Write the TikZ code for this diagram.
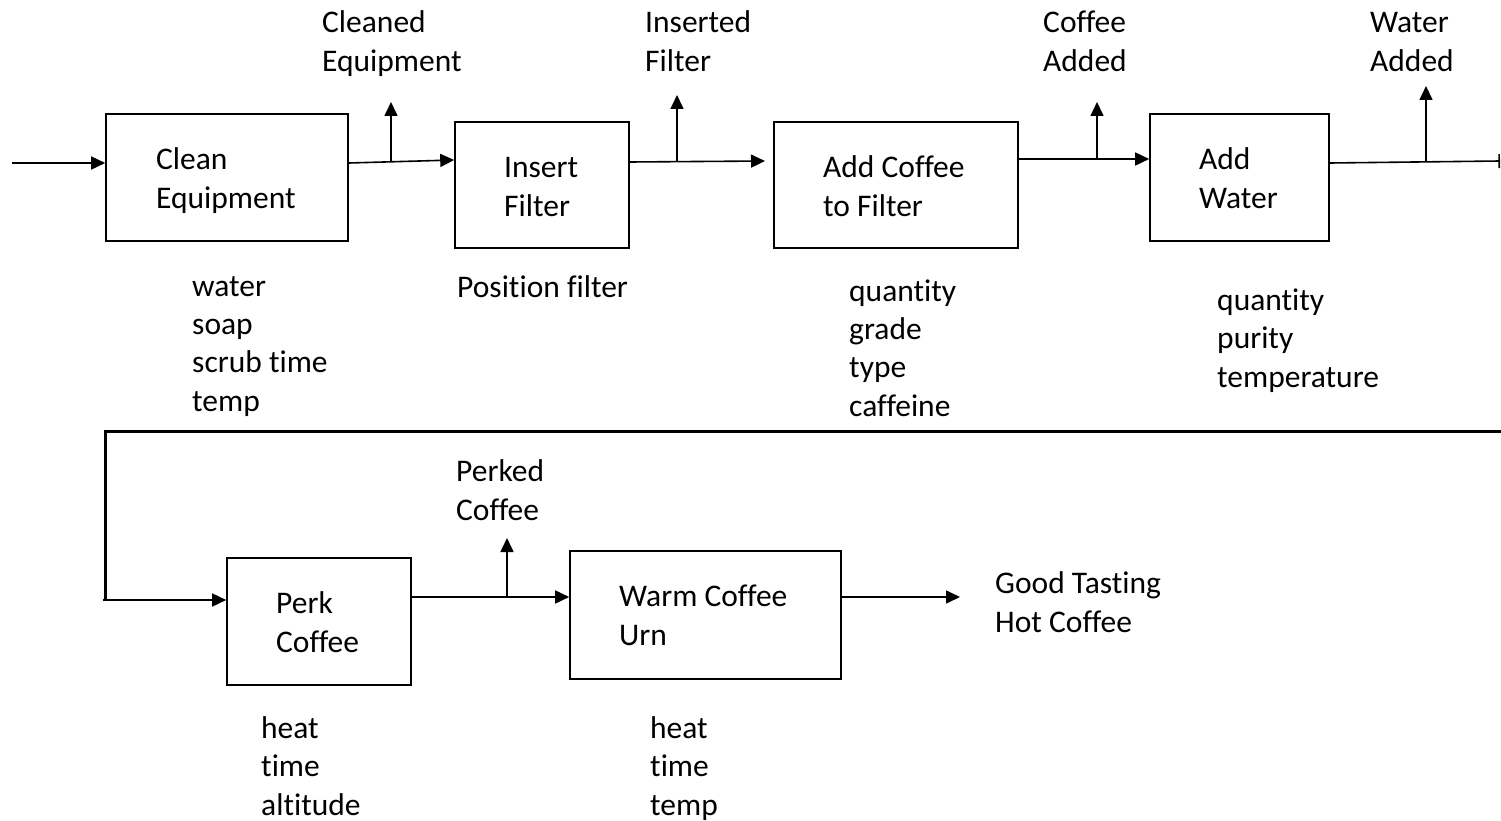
\documentclass[tikz,border=0pt]{standalone}
\usepackage{fontspec}
\setmainfont{Carlito}[Ligatures={NoCommon}]
\usetikzlibrary{arrows.meta}
\begin{document}
\begin{tikzpicture}[x=1pt,y=-1pt,
  box/.style={draw,line width=1.6pt,inner sep=0,minimum width=#1},
  arr/.style={line width=1.6pt,-{Triangle[length=14pt,width=13pt]}},
  ln/.style={line width=1.6pt},
  txt/.style={inner sep=0,anchor=base west,align=left,font=\fontsize{31.5}{39}\selectfont},
  lst/.style={inner sep=0,anchor=base west,align=left,font=\fontsize{31.5}{38.3}\selectfont}]
\useasboundingbox (0,0) rectangle (1501,821);
% boxes
\node[box=242pt,minimum height=127pt] (b1) at (227,177.5) {};
\node[box=174pt,minimum height=126pt] (b2) at (542,185) {};
\node[box=244pt,minimum height=126pt] (b3) at (896,185) {};
\node[box=179pt,minimum height=127pt] (b4) at (1239.5,177.5) {};
\node[box=184pt,minimum height=127pt] (b5) at (319,621.5) {};
\node[box=271pt,minimum height=128pt] (b6) at (705.5,615) {};
% box texts (anchor = baseline of last line)
\node[txt] (t1) at (156,208) {Clean\\Equipment};
\node[txt] (t2) at (504,216) {Insert\\Filter};
\node[txt] (t3) at (823,216) {Add Coffee\\to Filter};
\node[txt] (t4) at (1199,208) {Add\\Water};
\node[txt] (t5) at (276,652) {Perk\\Coffee};
\node[txt] (t6) at (619,645) {Warm Coffee\\Urn};
% output labels
\node[txt] (o1) at (322,72) {Cleaned\\Equipment};
\node[txt] (o2) at (645,72) {Inserted\\Filter};
\node[txt] (o3) at (1043,72) {Coffee\\Added};
\node[txt] (o4) at (1370,72) {Water\\Added};
\node[txt] (o5) at (456,520) {Perked\\Coffee};
\node[txt] (o6) at (995,632) {Good Tasting\\Hot Coffee};
% parameter lists
\node[lst] (p1) at (192,411) {water\\soap\\scrub time\\temp};
\node[lst] (p2) at (457,297) {Position filter};
\node[lst] (p3) at (849,416) {quantity\\grade\\type\\caffeine};
\node[lst] (p4) at (1217,387) {quantity\\purity\\temperature};
\node[lst] (p5) at (261,815) {heat\\time\\altitude};
\node[lst] (p6) at (650,815) {heat\\time\\temp};
% connector points
\coordinate (in) at (12,163);
\coordinate (j1) at (391,161);
\coordinate (u1) at (391,102);
\coordinate (j2) at (677,161);
\coordinate (u2) at (677,95);
\coordinate (e2) at (765,161);
\coordinate (j3) at (1097,159);
\coordinate (u3) at (1097,102);
\coordinate (j4) at (1426,162);
\coordinate (u4) at (1426,86);
\coordinate (r1) at (1500,161);
\coordinate (r2) at (1501,431);
\coordinate (l1) at (105,431);
\coordinate (l2) at (105,600);
\coordinate (l3) at (103,600);
\coordinate (j5) at (507,597);
\coordinate (u5) at (507,538);
\coordinate (out) at (960,597);
% connectors
\draw[arr] (in) -- (in -| b1.west);
\draw[arr] (b1.east |- 0,163) -- (b2.west |- 0,160);
\draw[arr] (j1) -- (u1);
\draw[arr] (b2.east |- 0,162) -- (e2);
\draw[arr] (j2) -- (u2);
\draw[arr] (b3.east |- 0,159) -- (b4.west |- 0,159);
\draw[arr] (j3) -- (u3);
\draw[ln,-{Bar[width=14pt]}] (b4.east |- 0,163) -- (r1);
\draw[arr] (j4) -- (u4);
\draw[line width=3pt] (r2) -- (l1) -- (l2);
\draw[arr] (l3) -- (l3 -| b5.west);
\draw[arr] (b5.east |- 0,597) -- (b6.west |- 0,597);
\draw[arr] (j5) -- (u5);
\draw[arr] (b6.east |- 0,597) -- (out);
\end{tikzpicture}
\end{document}
